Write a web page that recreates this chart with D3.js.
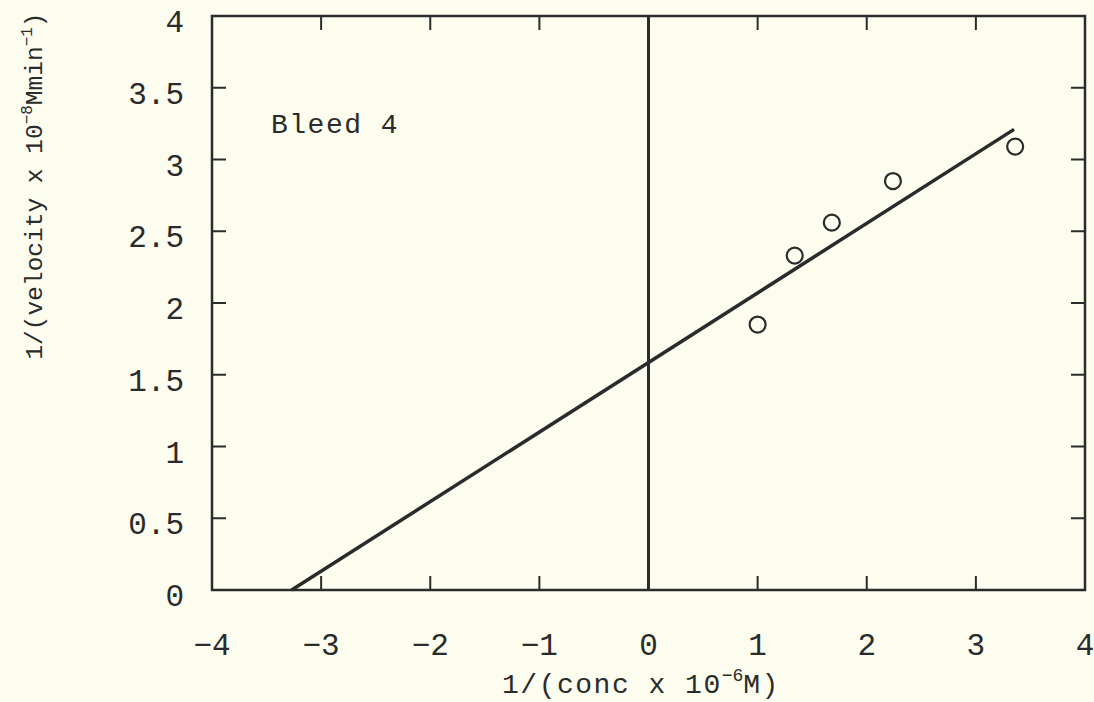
<!DOCTYPE html>
<html>
<head>
<meta charset="utf-8">
<script src="https://cdn.jsdelivr.net/npm/d3@7"></script>
<style>
  body { margin: 0; background: #fcfcef; }
  svg { display: block; }
  text { font-family: "Liberation Mono", "Courier New", monospace; fill: #2b2b2b; }
</style>
</head>
<body>
<svg id="chart" width="1094" height="702"></svg>
<script>
// data
var concInv = [1.00, 1.34, 1.68, 2.24, 3.36];
var velInv = [1.85, 2.33, 2.56, 2.85, 3.09];
// fitted line ends
var fitX = [-3.27, 3.35];
var fitY = [0, 3.21];
var xTicks = [-4, -3, -2, -1, 0, 1, 2, 3, 4];
var yTicks = [0, 0.5, 1, 1.5, 2, 2.5, 3, 3.5, 4];
var label = 'Bleed 4';

var svg = d3.select('#chart');
var ink = '#2b2b2b';

var x = d3.scaleLinear().domain([-4, 4]).range([212, 1085]);
var y = d3.scaleLinear().domain([0, 4]).range([590, 16]);

// frame
svg.append('rect')
    .attr('x', x(-4)).attr('y', y(4))
    .attr('width', x(4) - x(-4)).attr('height', y(0) - y(4))
    .attr('fill', 'none').attr('stroke', ink).attr('stroke-width', 2.5);

// inward ticks, all four sides
var inner = xTicks.slice(1, -1);
var innerY = yTicks.slice(1, -1);
var tickLen = 14;
svg.selectAll('.tb').data(inner).enter().append('line')
    .attr('x1', function(d){ return x(d); }).attr('x2', function(d){ return x(d); })
    .attr('y1', y(0)).attr('y2', y(0) - tickLen)
    .attr('stroke', ink).attr('stroke-width', 2);
svg.selectAll('.tt').data(inner).enter().append('line')
    .attr('x1', function(d){ return x(d); }).attr('x2', function(d){ return x(d); })
    .attr('y1', y(4)).attr('y2', y(4) + tickLen)
    .attr('stroke', ink).attr('stroke-width', 2);
svg.selectAll('.tl').data(innerY).enter().append('line')
    .attr('x1', x(-4)).attr('x2', x(-4) + tickLen)
    .attr('y1', function(d){ return y(d); }).attr('y2', function(d){ return y(d); })
    .attr('stroke', ink).attr('stroke-width', 2);
svg.selectAll('.tr').data(innerY).enter().append('line')
    .attr('x1', x(4)).attr('x2', x(4) - tickLen)
    .attr('y1', function(d){ return y(d); }).attr('y2', function(d){ return y(d); })
    .attr('stroke', ink).attr('stroke-width', 2);

// tick labels
svg.selectAll('.xl').data(xTicks).enter().append('text')
    .attr('x', function(d){ return x(d); })
    .attr('y', y(0) + 65)
    .attr('text-anchor', 'middle')
    .attr('font-size', 31)
    .text(function(d){ return d < 0 ? '\u2212' + Math.abs(d) : d; });

svg.selectAll('.yl').data(yTicks).enter().append('text')
    .attr('x', 184)
    .attr('y', function(d){ return y(d) + 16; })
    .attr('text-anchor', 'end')
    .attr('font-size', 31)
    .text(function(d){ return d; });

// x = 0 line
svg.append('line')
    .attr('x1', x(0)).attr('x2', x(0))
    .attr('y1', y(4)).attr('y2', y(0))
    .attr('stroke', ink).attr('stroke-width', 3);

// fitted line
var line = d3.line()
    .x(function(d){ return x(d[0]); })
    .y(function(d){ return y(d[1]); });
svg.append('path')
    .datum(d3.zip(fitX, fitY))
    .attr('d', line)
    .attr('fill', 'none').attr('stroke', ink).attr('stroke-width', 3.5);

// data points
svg.selectAll('.pt').data(d3.zip(concInv, velInv)).enter().append('circle')
    .attr('cx', function(d){ return x(d[0]); })
    .attr('cy', function(d){ return y(d[1]); })
    .attr('r', 8)
    .attr('fill', 'none').attr('stroke', ink).attr('stroke-width', 2.2);

// label inside plot
svg.append('text')
    .attr('x', 271).attr('y', 133)
    .attr('font-size', 28)
    .attr('letter-spacing', 1.5)
    .text(label);

// x axis title
var xt = svg.append('text')
    .attr('x', 641).attr('y', 693)
    .attr('text-anchor', 'middle')
    .attr('font-size', 28)
    .attr('letter-spacing', 1.5);
xt.append('tspan').text('1/(conc x 10');
xt.append('tspan').attr('dy', -12).attr('font-size', 18).attr('letter-spacing', 0).text('\u22126');
xt.append('tspan').attr('dy', 12).text('M)');

// y axis title
var yt = svg.append('text')
    .attr('transform', 'translate(42,186) rotate(-90)')
    .attr('text-anchor', 'middle')
    .attr('font-size', 24.5);
yt.append('tspan').text('1/(velocity x 10');
yt.append('tspan').attr('dy', -10).attr('font-size', 16).text('\u22128');
yt.append('tspan').attr('dy', 10).text('Mmin');
yt.append('tspan').attr('dy', -10).attr('font-size', 16).text('\u22121');
yt.append('tspan').attr('dy', 10).text(')');
</script>
</body>
</html>
